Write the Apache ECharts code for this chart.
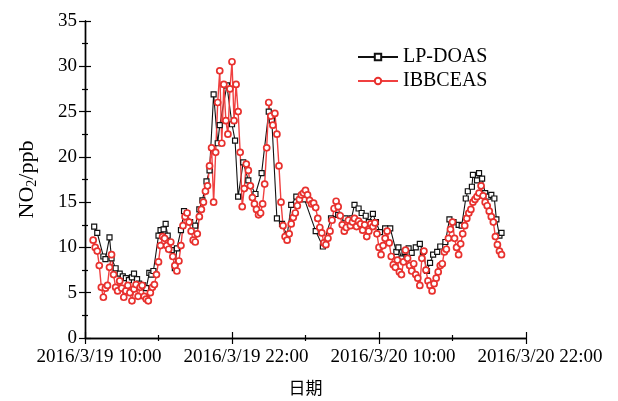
<!DOCTYPE html>
<html>
<head>
<meta charset="utf-8">
<script src="https://cdn.jsdelivr.net/npm/echarts@6/dist/echarts.min.js"></script>
<style>
  html, body { margin: 0; padding: 0; background: #fff; }
  #chart { width: 618px; height: 401px; }
</style>
</head>
<body>
<div id="chart"></div>
<script>
// NO2 mixing ratio, 2016-03-19 10:00 to 2016-03-20 22:00

const axisStart = { year: 2016, month: 3, day: 19, hour: 10 };
const xTickLabels = ['2016/3/19 10:00', '2016/3/19 22:00', '2016/3/20 10:00', '2016/3/20 22:00'];

// LP-DOAS measurement times ("M/D HH:mm") and NO2 (ppb)
const lpTimes = [
  '3/19 10:45', '3/19 11:00', '3/19 11:30', '3/19 11:40', '3/19 12:00', '3/19 12:10',
  '3/19 12:30', '3/19 12:50', '3/19 13:05', '3/19 13:20', '3/19 13:35', '3/19 13:50',
  '3/19 14:00', '3/19 14:15', '3/19 14:25', '3/19 14:45', '3/19 15:00', '3/19 15:15',
  '3/19 15:25', '3/19 15:35', '3/19 16:00', '3/19 16:10', '3/19 16:25', '3/19 16:35',
  '3/19 16:45', '3/19 17:05', '3/19 17:20', '3/19 17:30', '3/19 17:50', '3/19 18:05',
  '3/19 18:20', '3/19 18:35', '3/19 19:00', '3/19 19:20', '3/19 19:35', '3/19 19:55',
  '3/19 20:10', '3/19 20:30', '3/19 20:50', '3/19 21:00', '3/19 21:35', '3/19 22:00',
  '3/19 22:15', '3/19 22:30', '3/19 22:55', '3/19 23:20', '3/19 23:55', '3/20 00:25',
  '3/20 01:00', '3/20 01:15', '3/20 01:40', '3/20 02:05', '3/20 02:30', '3/20 02:50',
  '3/20 03:15', '3/20 03:55', '3/20 04:50', '3/20 05:25', '3/20 06:05', '3/20 06:40',
  '3/20 07:15', '3/20 07:45', '3/20 08:00', '3/20 08:20', '3/20 08:35', '3/20 08:55',
  '3/20 09:10', '3/20 09:30', '3/20 09:45', '3/20 10:05', '3/20 10:30', '3/20 10:55',
  '3/20 11:25', '3/20 11:35', '3/20 11:50', '3/20 12:05', '3/20 12:25', '3/20 12:40',
  '3/20 13:00', '3/20 13:20', '3/20 13:35', '3/20 13:55', '3/20 14:10', '3/20 14:25',
  '3/20 14:45', '3/20 15:00', '3/20 15:25', '3/20 15:45', '3/20 16:05', '3/20 16:30',
  '3/20 16:45', '3/20 17:05', '3/20 17:15', '3/20 17:35', '3/20 17:40', '3/20 18:00',
  '3/20 18:10', '3/20 18:25', '3/20 18:40', '3/20 18:55', '3/20 19:10', '3/20 19:25',
  '3/20 19:35', '3/20 19:50', '3/20 20:00'
];
const lpValues = [
  12.3, 11.6, 9.0, 8.7, 11.1, 8.8,
  7.7, 7.1, 6.8, 6.6, 6.4, 6.7,
  7.1, 6.5, 6.0, 5.8, 5.5, 7.2,
  7.0, 7.4, 11.3, 11.9, 12.0, 12.6,
  11.3, 9.7, 7.7, 9.9, 11.9, 14.0,
  13.8, 12.8, 12.4, 14.2, 15.2, 17.3,
  18.5, 26.9, 21.5, 23.5, 27.9, 23.6,
  21.8, 15.6, 19.4, 17.4, 15.9, 18.2,
  25.0, 24.0, 13.2, 12.6, 11.3, 14.7,
  15.6, 15.3, 11.8, 10.1, 13.2, 13.6,
  13.2, 13.2, 14.7, 14.3, 13.8, 13.5,
  12.8, 13.7, 12.8, 11.7, 12.1, 12.1,
  9.5, 10.0, 8.8, 9.5, 9.9, 9.4,
  10.0, 10.4, 9.5, 7.4, 8.3, 9.2,
  9.5, 10.1, 10.6, 13.1, 12.8, 12.5,
  12.4, 15.4, 16.2, 16.7, 18.0, 17.4,
  18.2, 17.6, 16.0, 15.6, 15.8, 15.4,
  13.1, 11.3, 11.6
];

// IBBCEAS: one value every 10 minutes from 3/19 10:40 to 3/20 20:00
const ibbFirstTime = '3/19 10:40';
const ibbStepMinutes = 10;
const ibbValues = [
  10.8, 10.0,                          // 10:40-10:50
  9.6, 8.0, 5.6, 4.5, 5.5, 5.8,        // 11h
  7.8, 9.2, 7.0, 5.6, 5.2, 6.3,        // 12h
  5.5, 4.5, 5.2, 5.8, 5.0, 4.1,        // 13h
  5.4, 5.9, 4.6, 5.6, 5.8, 4.6,        // 14h
  4.3, 4.1, 5.0, 5.6, 5.9, 7.0,        // 15h
  8.4, 10.2, 11.2, 11.0, 10.2, 9.8,    // 16h
  10.6, 9.0, 8.0, 7.4, 8.5, 10.2,      // 17h
  12.4, 13.4, 13.8, 12.8, 11.8, 10.8,  // 18h
  10.6, 11.5, 13.4, 14.2, 15.0, 16.2,  // 19h
  16.8, 19.0, 21.0, 15.0, 20.5, 26.0,  // 20h
  29.5, 21.5, 28.0, 24.0, 22.5, 27.5,  // 21h
  30.5, 24.0, 28.0, 25.0, 20.5, 14.5,  // 22h
  16.5, 19.2, 18.5, 16.8, 15.5, 14.8,  // 23h
  14.2, 13.6, 13.8, 14.8, 17.0, 21.0,  // 00h (3/20)
  26.0, 24.5, 23.5, 24.8, 22.5, 19.0,  // 01h
  15.0, 12.4, 11.2, 10.8, 11.5, 12.6,  // 02h
  13.3, 13.8, 14.6, 15.3, 15.8, 16.0,  // 03h
  16.3, 15.8, 15.2, 14.8, 14.9, 14.4,  // 04h
  13.2, 12.2, 11.6, 10.5, 10.3, 11.0,  // 05h
  11.8, 13.0, 14.3, 15.1, 14.5, 13.5,  // 06h
  12.5, 11.8, 12.2, 13.0, 12.4, 12.8,  // 07h
  13.2, 12.3, 12.9, 12.6, 11.9, 12.5,  // 08h
  11.2, 11.8, 12.6, 12.3, 12.7, 11.5,  // 09h
  10.0, 9.2, 10.2, 11.0, 11.8, 10.5,   // 10h
  9.0, 8.1, 7.8, 8.6, 7.3, 7.0,        // 11h
  8.4, 9.7, 8.8, 8.0, 7.4, 8.2,        // 12h
  7.0, 6.6, 5.8, 8.8, 9.6, 7.5,        // 13h
  6.3, 5.8, 5.2, 6.0, 6.6, 7.3,        // 14h
  8.0, 8.2, 9.5, 9.8, 11.0, 12.0,      // 15h
  12.8, 11.0, 10.0, 9.2, 10.4, 11.5,   // 16h
  12.4, 13.2, 13.8, 14.2, 15.0, 15.3,  // 17h
  15.6, 16.0, 16.8, 15.7, 15.0, 14.6,  // 18h
  14.0, 13.4, 12.8, 11.2, 10.3, 9.6,   // 19h
  9.2                                  // 20:00
];

// hours elapsed since the start of the x axis for a "M/D HH:mm" stamp
function hoursFromStart(stamp) {
  const [md, hm] = stamp.split(' ');
  const [m, d] = md.split('/').map(Number);
  const [hh, mm] = hm.split(':').map(Number);
  const t = Date.UTC(axisStart.year, m - 1, d, hh, mm);
  const t0 = Date.UTC(axisStart.year, axisStart.month - 1, axisStart.day, axisStart.hour, 0);
  return (t - t0) / 3600000;
}

const lpData = lpTimes.map((s, i) => [hoursFromStart(s), lpValues[i]]);
const ibbStart = hoursFromStart(ibbFirstTime);
const ibbData = ibbValues.map((v, i) => [ibbStart + i * ibbStepMinutes / 60, v]);

const serif = 'Liberation Serif';
const tickStyle = { inside: true, length: 6, lineStyle: { color: '#000', width: 1.2 } };
const minorStyle = { show: true, splitNumber: 2, length: 3, lineStyle: { color: '#000', width: 1.2 } };
const lineStyle = { lineStyle: { color: '#000', width: 1.4 } };

const xCommon = {
  type: 'value', min: 0, max: 36, interval: 12,
  axisLine: lineStyle, axisTick: tickStyle, minorTick: minorStyle, splitLine: { show: false }
};
const yCommon = {
  type: 'value', min: 0, max: 35, interval: 5,
  axisLine: lineStyle, axisTick: tickStyle, minorTick: minorStyle, splitLine: { show: false }
};

const chart = echarts.init(document.getElementById('chart'), null, { renderer: 'canvas' });
chart.setOption({
  animation: false,
  backgroundColor: '#fff',
  grid: { left: 85, right: 92, top: 21, bottom: 55 },
  legend: {
    orient: 'vertical', left: 352, top: 42,
    itemWidth: 40, itemHeight: 8, itemGap: 4,
    textStyle: { fontFamily: serif, fontSize: 20, color: '#000', lineHeight: 20 },
    data: ['LP-DOAS', 'IBBCEAS']
  },
  xAxis: [
    Object.assign({}, xCommon, {
      position: 'bottom',
      name: '日期', nameLocation: 'middle', nameGap: 41,
      nameTextStyle: { fontFamily: 'Noto Sans CJK SC', fontSize: 17, color: '#000' },
      axisLabel: {
        fontFamily: serif, fontSize: 19, color: '#000', margin: 10,
        padding: [0, 0, 0, 28], showMinLabel: true, showMaxLabel: true,
        formatter: v => xTickLabels[Math.round(v / 12)]
      }
    }),
    Object.assign({}, xCommon, { position: 'top', axisLabel: { show: false } })
  ],
  yAxis: [
    Object.assign({}, yCommon, {
      position: 'left',
      name: 'NO{sub|2}/ppb', nameLocation: 'middle', nameGap: 46, nameRotate: 90,
      nameTextStyle: {
        fontFamily: serif, fontSize: 22, color: '#000',
        rich: { sub: { fontFamily: serif, fontSize: 14, color: '#000', padding: [10, 0, 0, 0] } }
      },
      axisLabel: { fontFamily: serif, fontSize: 19, color: '#000', margin: 8 }
    }),
    Object.assign({}, yCommon, { position: 'right', axisLabel: { show: false } })
  ],
  series: [
    {
      name: 'LP-DOAS', type: 'line', data: lpData,
      xAxisIndex: 0, yAxisIndex: 0,
      symbol: 'rect', symbolSize: 5, showAllSymbol: true,
      lineStyle: { color: '#111', width: 1.1 },
      itemStyle: { color: '#fff', borderColor: '#111', borderWidth: 1.2 }
    },
    {
      name: 'IBBCEAS', type: 'line', data: ibbData,
      xAxisIndex: 0, yAxisIndex: 0,
      symbol: 'circle', symbolSize: 6, showAllSymbol: true,
      lineStyle: { color: '#f04040', width: 1.4 },
      itemStyle: { color: '#fff', borderColor: '#e8312e', borderWidth: 1.7 }
    }
  ]
});
</script>
</body>
</html>
